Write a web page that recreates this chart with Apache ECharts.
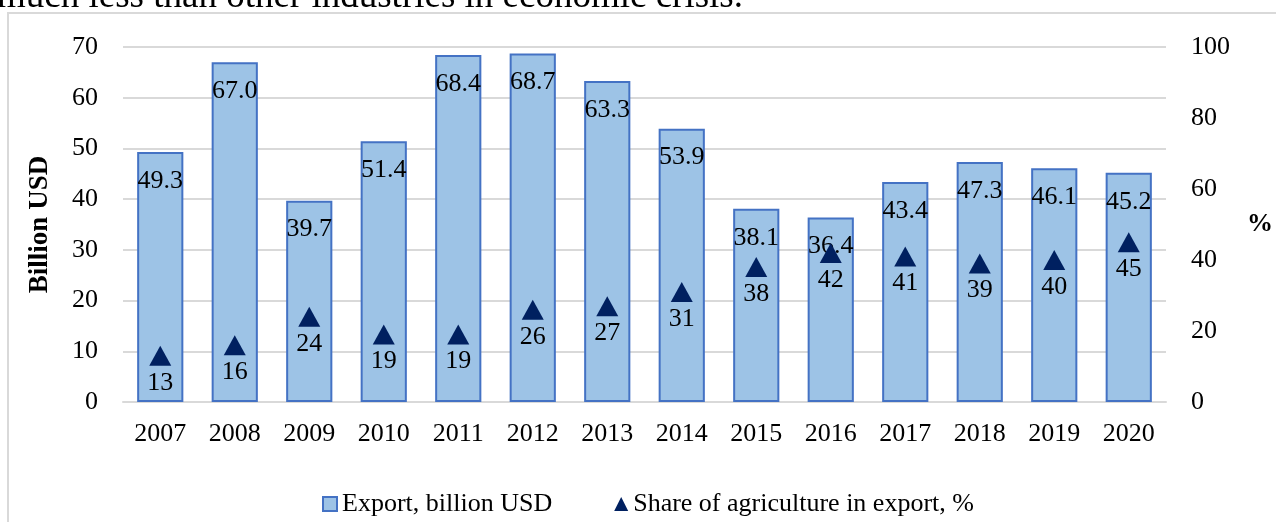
<!DOCTYPE html>
<html><head><meta charset="utf-8">
<script src="https://cdn.jsdelivr.net/npm/echarts@6/dist/echarts.min.js"></script>
<style>html,body{margin:0;padding:0;background:#fff}#c{width:1276px;height:522px}</style>
</head><body><div id="c"></div>
<script>
var years = ['2007','2008','2009','2010','2011','2012','2013','2014','2015','2016','2017','2018','2019','2020'];
var exportValues = [49.3,67.0,39.7,51.4,68.4,68.7,63.3,53.9,38.1,36.4,43.4,47.3,46.1,45.2];
var agriShare = [13,16,24,19,19,26,27,31,38,42,41,39,40,45];
var leftTicks = [0,10,20,30,40,50,60,70];
var rightTicks = [0,20,40,60,80,100];
var topText = 'much less than other industries in economic crisis.';

var F = '"Liberation Serif","Times New Roman",serif';
var FS = 26;
var chart = echarts.init(document.getElementById('c'));
chart.setOption({
  animation:false,
  textStyle:{fontFamily:F,color:'#000'},
  graphic:[
    {type:'rect',x:8,y:13,shape:{width:1300,height:540},style:{fill:'none',stroke:'#d9d9d9',lineWidth:2},silent:true,z:-10},
    {type:'text',x:-3,y:-21,z:100,silent:true,
     style:{text:topText,fill:'#000',font:'37px "Liberation Serif", serif',textAlign:'left'}}
  ],
  grid:{left:123,right:108,top:47,bottom:120},
  legend:{
    top:486,left:317,itemGap:62,itemWidth:14,itemHeight:14,
    textStyle:{fontFamily:F,fontSize:FS,color:'#000'},
    data:[{name:'Export, billion USD',icon:'rect'},{name:'Share of agriculture in export, %',icon:'triangle'}]
  },
  xAxis:{type:'category',data:years,axisTick:{show:false},
    axisLine:{lineStyle:{color:'#d9d9d9',width:2}},
    axisLabel:{fontFamily:F,fontSize:FS,color:'#000',margin:19}},
  yAxis:[
    {type:'value',min:0,max:70,interval:10,name:'Billion USD',nameLocation:'middle',nameGap:83,
     nameTextStyle:{fontFamily:F,fontSize:27,fontWeight:'bold',color:'#000',verticalAlign:'middle'},
     axisLabel:{fontFamily:F,fontSize:FS,color:'#000',margin:25},
     splitLine:{lineStyle:{color:'#d9d9d9',width:2}},axisLine:{show:false},axisTick:{show:false}},
    {type:'value',min:0,max:100,interval:20,name:'%',nameLocation:'middle',nameGap:94,nameRotate:0,
     nameTextStyle:{fontFamily:F,fontSize:26,fontWeight:'bold',color:'#000',align:'center'},
     axisLabel:{fontFamily:F,fontSize:FS,color:'#000',margin:25},
     splitLine:{show:false},axisLine:{show:false},axisTick:{show:false}}
  ],
  series:[
    {name:'Export, billion USD',type:'bar',data:exportValues,barWidth:'62%',
     itemStyle:{color:'#9dc3e6',borderColor:'#4472c4',borderWidth:2},
     label:{show:true,position:'insideTop',distance:16,fontFamily:F,fontSize:FS,color:'#000',
       formatter:function(p){return p.value.toFixed(1);}}},
    {name:'Share of agriculture in export, %',type:'scatter',yAxisIndex:1,data:agriShare,
     symbol:'triangle',symbolSize:[22,20],itemStyle:{color:'#002060',opacity:1},
     label:{show:true,position:'bottom',distance:4,fontFamily:F,fontSize:FS,color:'#000'}}
  ]
});
</script></body></html>
